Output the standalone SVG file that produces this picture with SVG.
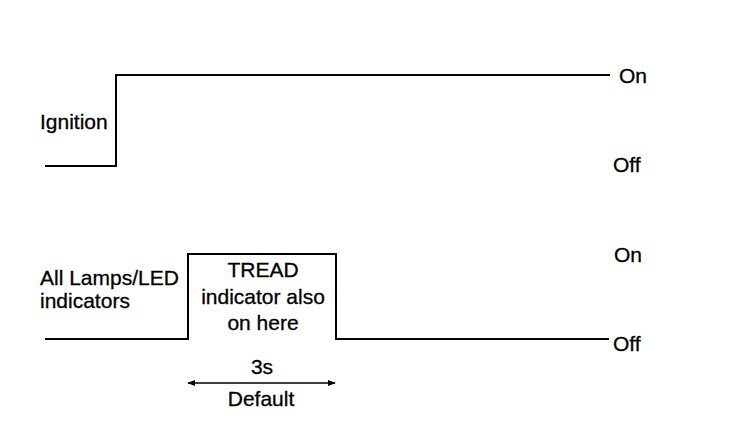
<svg xmlns="http://www.w3.org/2000/svg" width="736" height="444" viewBox="0 0 736 444">
<style>
text{font-family:"Liberation Sans",Arial,sans-serif;font-size:21px;fill:#000;stroke:#000;stroke-width:0.3}
.sig{fill:none;stroke:#000;stroke-width:2}
.mid{text-anchor:middle}
</style>
<defs>
<marker id="ah" viewBox="0 0 10 10" refX="9" refY="5" markerWidth="8" markerHeight="8" markerUnits="userSpaceOnUse" orient="auto-start-reverse">
<path d="M0,1 L10,5 L0,9 z" fill="#000"/>
</marker>
</defs>
<rect width="736" height="444" fill="#fff"/>
<g id="connectors">
<path id="ignition-signal" class="sig" d="M45,166 H116 V75 H610"/>
<path id="lamps-signal" class="sig" d="M45,339 H188 V254 H336 V339 H609"/>
<line id="duration" x1="188" y1="383" x2="335" y2="383" stroke="#000" stroke-width="1.5" marker-start="url(#ah)" marker-end="url(#ah)"/>
</g>
<g id="ignition-label"><text x="40" y="129">Ignition</text></g>
<g id="ignition-on"><text x="619" y="83">On</text></g>
<g id="ignition-off"><text x="613" y="172">Off</text></g>
<g id="lamps-label"><text x="40" y="285">All Lamps/LED</text><text x="40" y="308">indicators</text></g>
<g id="tread-note"><text class="mid" x="263" y="277">TREAD</text><text class="mid" x="263" y="304">indicator also</text><text class="mid" x="263" y="330">on here</text></g>
<g id="lamps-on"><text x="614" y="262">On</text></g>
<g id="lamps-off"><text x="613" y="351">Off</text></g>
<g id="duration-label"><text class="mid" x="262" y="374">3s</text><text class="mid" x="261" y="406">Default</text></g>
</svg>
